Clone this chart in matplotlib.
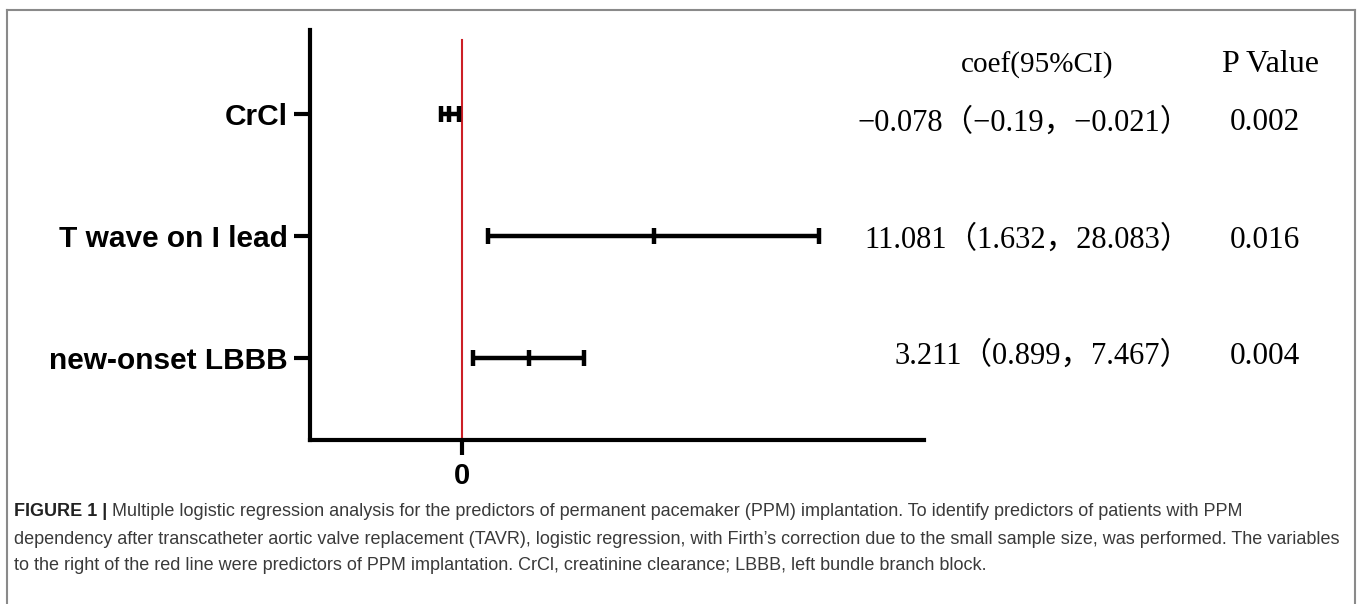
import matplotlib
matplotlib.use("Agg")
import matplotlib.pyplot as plt
from matplotlib.lines import Line2D

# ---- data ----
variables = ["CrCl", "T wave on I lead", "new-onset LBBB"]
# positions of the interval marks as drawn in the figure (axis units)
plot_lo = [-1.65, 2.05, 0.87]
plot_mid = [-1.02, 15.1, 5.27]
plot_hi = [-0.24, 28.08, 9.6]
# table text
coef_text = ["\u22120.078（\u22120.19，\u22120.021）",
             "11.081（1.632，28.083）",
             "3.211（0.899，7.467）"]
p_text = ["0.002", "0.016", "0.004"]
col_headers = ["coef(95%CI)", "P Value"]
xtick_vals = [0]
xtick_labels = ["0"]

W, H = 1357, 604
fig = plt.figure(figsize=(W / 100, H / 100), dpi=100)
fig.patch.set_facecolor("white")

def fx(px):
    return px / W

def fy(py):
    return 1 - py / H

# axes box in pixels: x 310..924, y 30..440
ax = fig.add_axes([fx(310), fy(440), fx(924) - fx(310), fy(30) - fy(440)])
ax.set_facecolor("none")
ypos = [3, 2, 1]
ax.set_ylim(0.33, 3.69)
ax.set_xlim(-11.96, 36.35)

for s in ["top", "right"]:
    ax.spines[s].set_visible(False)
for s in ["left", "bottom"]:
    ax.spines[s].set_linewidth(3)
    ax.spines[s].set_color("black")
    ax.spines[s].set_capstyle("projecting")

# red reference line
ax.axvline(0, ymin=0, ymax=(440 - 40) / 410, color="#cc1f26", lw=1.5, zorder=1)

# intervals
ax.hlines(ypos, plot_lo, plot_hi, color="black", lw=3.2, zorder=3)
for y, lo, mid, hi in zip(ypos, plot_lo, plot_mid, plot_hi):
    ax.plot([lo, mid, hi], [y, y, y], ls="none", marker="|", ms=11.5,
            mew=3.2, color="black", zorder=4)

ax.set_yticks(ypos)
ax.set_yticklabels(variables, fontsize=21.5, fontweight="bold",
                   family="Liberation Sans")
ax.tick_params(axis="y", length=11.5, width=3, pad=4.5, color="black")
ax.set_xticks(xtick_vals)
ax.set_xticklabels(xtick_labels, fontsize=21, fontweight="bold",
                   family="Liberation Sans")
ax.tick_params(axis="x", length=11, width=3, pad=5, color="black")

# table text
serif = ["Liberation Serif", "Noto Sans CJK SC"]
fig.text(fx(1037), fy(65), col_headers[0], ha="center", va="center",
         fontsize=21, family=serif)
fig.text(fx(1271), fy(65), col_headers[1], ha="center", va="center",
         fontsize=23, family=serif)
row_py = [123, 240, 356]
for py, ct, pt in zip(row_py, coef_text, p_text):
    fig.text(fx(1191), fy(py), ct, ha="right", va="center", fontsize=22,
             family=serif)
    fig.text(fx(1265), fy(py), pt, ha="center", va="center", fontsize=22.5,
             family=serif)

# border (open at bottom)
bc = "#8a8a8a"
fig.add_artist(Line2D([fx(7), fx(7)], [fy(10), 0], color=bc, lw=1.5,
                      transform=fig.transFigure))
fig.add_artist(Line2D([fx(1355), fx(1355)], [fy(10), 0], color=bc, lw=1.5,
                      transform=fig.transFigure))
fig.add_artist(Line2D([fx(7), fx(1355)], [fy(10), fy(10)], color=bc, lw=1.5,
                      transform=fig.transFigure))

# caption
cap_font = "Liberation Sans"
cap_size = 13
cap_color = "#3a3a3a"
lines = [
    "Multiple logistic regression analysis for the predictors of permanent pacemaker (PPM) implantation. To identify predictors of patients with PPM",
    "dependency after transcatheter aortic valve replacement (TAVR), logistic regression, with Firth\u2019s correction due to the small sample size, was performed. The variables",
    "to the right of the red line were predictors of PPM implantation. CrCl, creatinine clearance; LBBB, left bundle branch block.",
]
line_py = [512, 539, 566]
bold = fig.text(fx(14), fy(line_py[0]), "FIGURE 1 | ", ha="left", va="center",
                fontsize=cap_size, fontweight="bold", family=cap_font,
                color="#222222")
fig.canvas.draw()
bb = bold.get_window_extent(renderer=fig.canvas.get_renderer())
fig.text(bb.x1 / W, fy(line_py[0]), lines[0], ha="left", va="center",
         fontsize=cap_size, family=cap_font, color=cap_color)
for py, t in zip(line_py[1:], lines[1:]):
    fig.text(fx(14), fy(py), t, ha="left", va="center", fontsize=cap_size,
             family=cap_font, color=cap_color)

fig.savefig("out.png", dpi=100, facecolor="white")
